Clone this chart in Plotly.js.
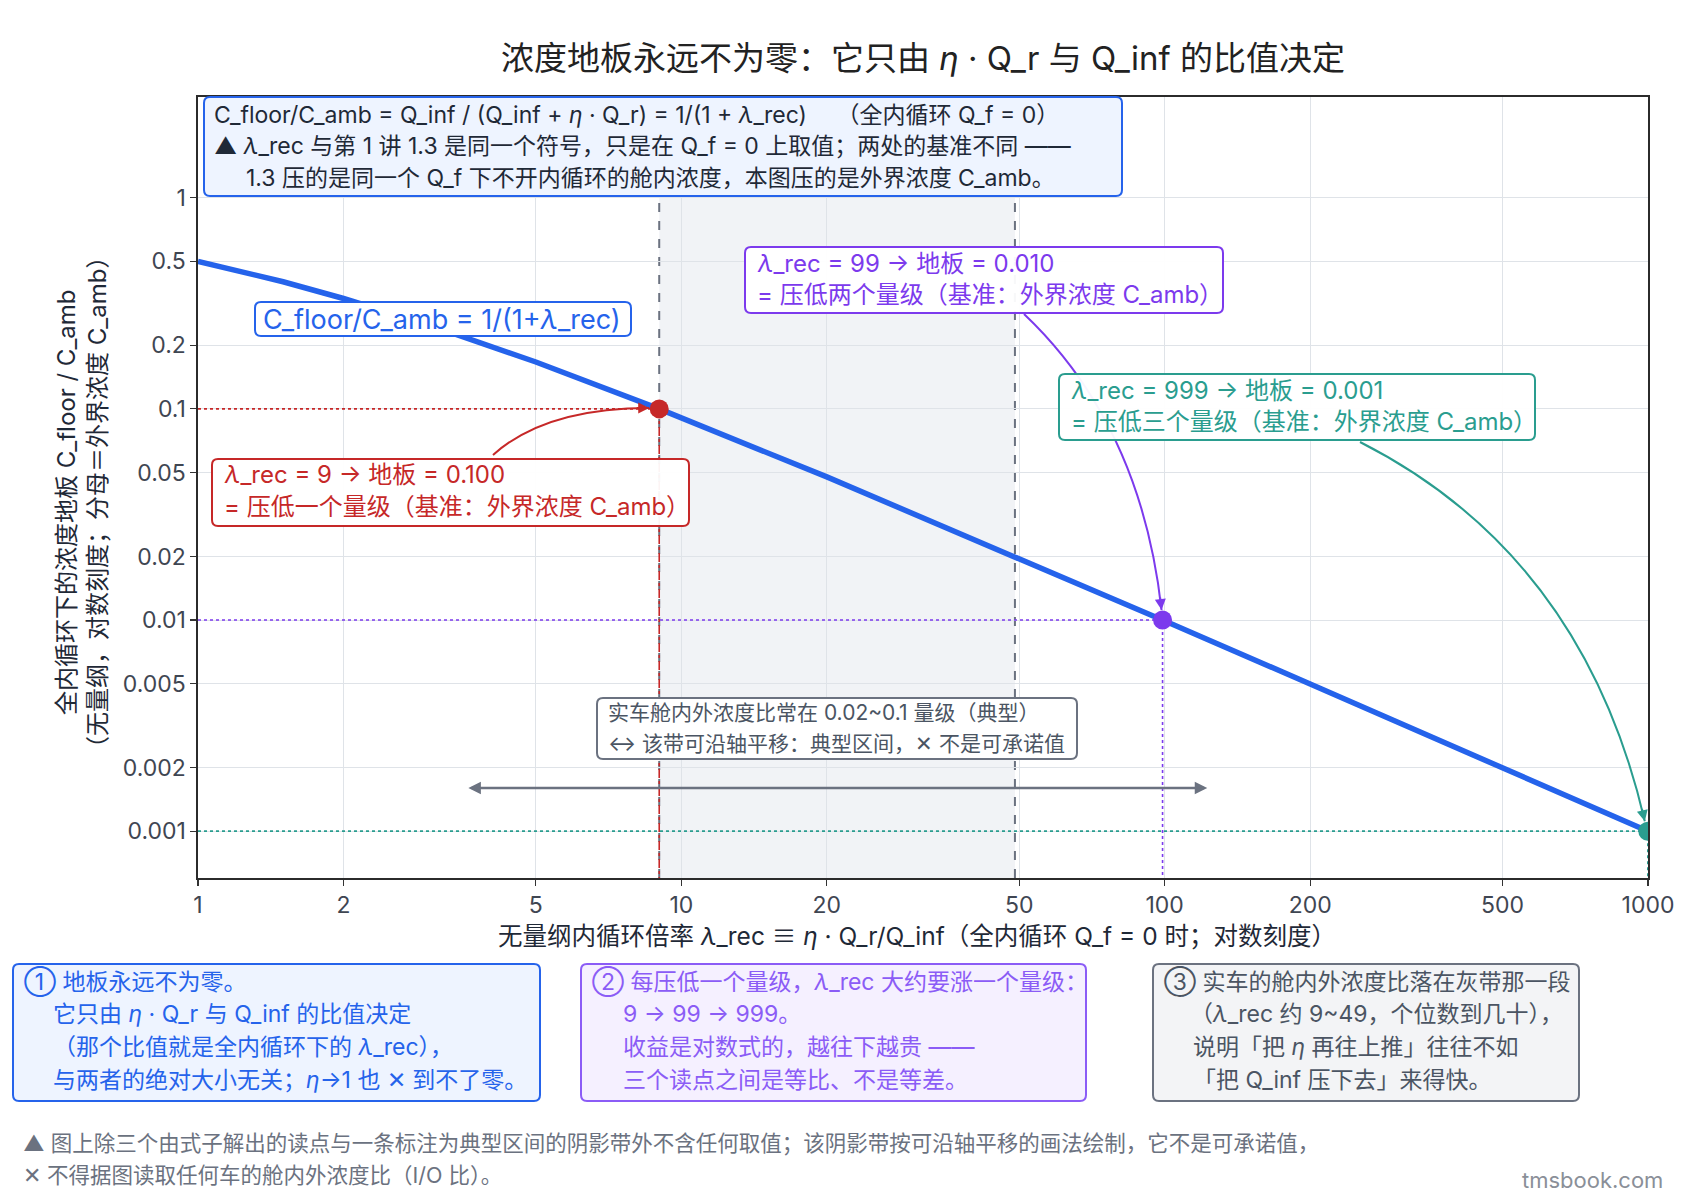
<!DOCTYPE html>
<html>
<head>
<meta charset="utf-8">
<script src="https://cdn.plot.ly/plotly-3.0.1.min.js"></script>
<style>body{margin:0;background:#fff}</style>
</head>
<body>
<div id="chart" style="width:1682px;height:1203px"></div>
<script>
// ---------- DATA ----------
const lamCurve   = [1, 1.5, 2, 3, 5, 9, 20, 49, 99, 200, 500, 999, 1000];
const floorCurve = [0.5, 0.4, 0.3333, 0.25, 0.1667, 0.1, 0.04762, 0.02, 0.01, 0.004975, 0.001996, 0.001, 0.000999];

const readLam    = [9, 99, 999];
const readFloor  = [0.1, 0.01, 0.001];
const readColors = ['#c62828', '#7c3aed', '#2a9d8f'];

const bandLam    = [9, 49];        // typical interval (grey band)
const bandShift  = [3.6, 122.5];   // slide arrow extent
const bandArrowY = 0.0016;

const xTicks    = [1, 2, 5, 10, 20, 50, 100, 200, 500, 1000];
const yTicks    = [1, 0.5, 0.2, 0.1, 0.05, 0.02, 0.01, 0.005, 0.002, 0.001];
const yTickText = ['1', '0.5', '0.2', '0.1', '0.05', '0.02', '0.01', '0.005', '0.002', '0.001'];
const xRange = [1, 1000];
const yRange = [0.0006, 3];

const titleText  = '浓度地板永远不为零：它只由 <i>η</i> · Q_r 与 Q_inf 的比值决定';
const xTitleText = '无量纲内循环倍率 <i>λ</i>_rec ≡ <i>η</i> · Q_r/Q_inf（全内循环 Q_f = 0 时；对数刻度）';
const yTitleText = '全内循环下的浓度地板 C_floor / C_amb<br>（无量纲，对数刻度；分母＝外界浓度 C_amb）';

const topLines = [
  'C_floor/C_amb = Q_inf / (Q_inf + <i>η</i> · Q_r) = 1/(1 + <i>λ</i>_rec)　 （全内循环 Q_f = 0）',
  '▲ <i>λ</i>_rec 与第 1 讲 1.3 是同一个符号，只是在 Q_f = 0 上取值；两处的基准不同 ——',
  '1.3 压的是同一个 Q_f 下不开内循环的舱内浓度，本图压的是外界浓度 C_amb。'
];
const curveLabel = ['C_floor/C_amb = 1/(1+<i>λ</i>_rec)'];
const readLines = [
  ['<i>λ</i>_rec = 9 → 地板 = 0.100',   '= 压低一个量级（基准：外界浓度 C_amb）'],
  ['<i>λ</i>_rec = 99 → 地板 = 0.010',  '= 压低两个量级（基准：外界浓度 C_amb）'],
  ['<i>λ</i>_rec = 999 → 地板 = 0.001', '= 压低三个量级（基准：外界浓度 C_amb）']
];
const bandLines = ['实车舱内外浓度比常在 0.02~0.1 量级（典型）', '↔ 该带可沿轴平移：典型区间，✕ 不是可承诺值'];
const note1 = ['① 地板永远不为零。', '它只由 <i>η</i> · Q_r 与 Q_inf 的比值决定', '（那个比值就是全内循环下的 <i>λ</i>_rec），', '与两者的绝对大小无关；<i>η</i>→1 也 ✕ 到不了零。'];
const note2 = ['② 每压低一个量级，<i>λ</i>_rec 大约要涨一个量级：', '9 → 99 → 999。', '收益是对数式的，越往下越贵 ——', '三个读点之间是等比、不是等差。'];
const note3 = ['③ 实车的舱内外浓度比落在灰带那一段', '（<i>λ</i>_rec 约 9~49，个位数到几十），', '说明「把 <i>η</i> 再往上推」往往不如', '「把 Q_inf 压下去」来得快。'];
const footLines = [
  '▲ 图上除三个由式子解出的读点与一条标注为典型区间的阴影带外不含任何取值；该阴影带按可沿轴平移的画法绘制，它不是可承诺值，',
  '✕ 不得据图读取任何车的舱内外浓度比（I/O 比）。'
];

// ---------- GEOMETRY HELPERS ----------
const FONT = 'Inter, "Noto Sans CJK SC", sans-serif';
const W = 1682, H = 1203;
const M = { l: 198, r: 34, t: 97, b: 325 };
const PW = W - M.l - M.r, PH = H - M.t - M.b;
const lg = Math.log10;
const px = x => (x - M.l) / PW;          // pixel -> paper
const py = y => 1 - (y - M.t) / PH;
const dx = v => M.l + (lg(v) - lg(xRange[0])) / (lg(xRange[1]) - lg(xRange[0])) * PW;   // data -> pixel
const dy = v => M.t + (lg(yRange[1]) - lg(v)) / (lg(yRange[1]) - lg(yRange[0])) * PH;

const shapes = [];
const annotations = [];

function roundRect(x0, y0, x1, y1, r) {
  const rx = r / PW, ry = r / PH;
  const a = px(x0), b = px(x1), c = py(y0), d = py(y1);
  return `M ${a + rx},${c} L ${b - rx},${c} Q ${b},${c} ${b},${c - ry} L ${b},${d + ry} Q ${b},${d} ${b - rx},${d}` +
         ` L ${a + rx},${d} Q ${a},${d} ${a},${d + ry} L ${a},${c - ry} Q ${a},${c} ${a + rx},${c} Z`;
}

function textBox(o) {
  shapes.push({
    type: 'path', xref: 'paper', yref: 'paper', layer: 'above',
    path: roundRect(o.x0, o.y0, o.x1, o.y1, 6),
    fillcolor: o.bg, line: { color: o.border, width: 2 }
  });
  o.lines.forEach((t, i) => {
    const ind = o.indents ? o.indents[i] * o.indent : 0;
    annotations.push({
      xref: 'paper', yref: 'paper', showarrow: false,
      x: px(o.x0 + o.pad + ind),
      y: py(o.first + i * o.step),
      xanchor: 'left', yanchor: 'middle', text: t,
      font: { family: FONT, size: o.size, color: o.color }
    });
  });
}

function curvedArrow(p0, c, p2, color) {
  shapes.push({
    type: 'path', xref: 'paper', yref: 'paper', layer: 'above',
    path: `M ${px(p0[0])},${py(p0[1])} Q ${px(c[0])},${py(c[1])} ${px(p2[0])},${py(p2[1])}`,
    line: { color: color, width: 2 }
  });
  const vx = c[0] - p2[0], vy = c[1] - p2[1], n = Math.hypot(vx, vy);
  annotations.push({
    xref: 'paper', yref: 'paper', x: px(p2[0]), y: py(p2[1]),
    ax: vx / n * 14, ay: vy / n * 14, text: '', showarrow: true,
    arrowhead: 2, arrowsize: 1.1, arrowwidth: 2, arrowcolor: color, standoff: 0
  });
}

// ---------- TRACES ----------
const traces = [];
readLam.forEach((lam, i) => {
  traces.push({
    x: [xRange[0], lam], y: [readFloor[i], readFloor[i]], mode: 'lines', hoverinfo: 'skip',
    line: { color: readColors[i], width: 1.6, dash: 'dot' }, showlegend: false
  });
  traces.push({
    x: [lam, lam], y: [readFloor[i], yRange[0]], mode: 'lines', hoverinfo: 'skip',
    line: { color: readColors[i], width: 1.6, dash: i === 0 ? 'dashdot' : 'dot' }, showlegend: false
  });
});
traces.push({
  x: lamCurve, y: floorCurve, mode: 'lines', line: { color: '#2563eb', width: 5.5 }, showlegend: false
});
traces.push({
  x: readLam, y: readFloor, mode: 'markers', showlegend: false,
  marker: { color: readColors, size: 19 }
});

// ---------- SHAPES / BOXES ----------
shapes.push({
  type: 'rect', xref: 'x', yref: 'paper', layer: 'below',
  x0: bandLam[0], x1: bandLam[1], y0: 0, y1: 1,
  fillcolor: '#f1f3f6', line: { width: 0 }
});
bandLam.forEach(v => shapes.push({
  type: 'line', xref: 'x', yref: 'paper', layer: 'below',
  x0: v, x1: v, y0: 0, y1: 1, line: { color: '#6b7280', width: 2, dash: 'dash' }
}));

annotations.push({
  xref: 'x', yref: 'y', axref: 'x', ayref: 'y',
  x: lg(bandShift[1]), y: lg(bandArrowY), ax: lg(bandShift[0]), ay: lg(bandArrowY),
  text: '', showarrow: true, arrowside: 'end+start', arrowhead: 2, arrowsize: 1,
  arrowwidth: 2.5, arrowcolor: '#6b7280', standoff: 0, startstandoff: 0
});

curvedArrow([493, 455], [545, 408], [dx(readLam[0]) - 10, dy(readFloor[0]) - 1], readColors[0]);
curvedArrow([1024, 314], [1141, 425], [dx(readLam[1]) - 1, dy(readFloor[1]) - 10], readColors[1]);
curvedArrow([1360, 442], [1583, 555], [dx(readLam[2]) - 3, dy(readFloor[2]) - 10], readColors[2]);

textBox({ x0: 204, y0: 97, x1: 1122, y1: 196, lines: topLines, first: 114.5, step: 31.5, pad: 8,
          indent: 32, indents: [0, 0, 1],
          size: 23, color: '#1f2937', bg: '#eef4ff', border: '#2563eb' });
textBox({ x0: 255, y0: 302, x1: 631, y1: 336, lines: curveLabel, first: 319, step: 0, pad: 6,
          size: 27, color: '#2563eb', bg: '#ffffff', border: '#2563eb' });
const readBoxes = [[212, 459, 689, 526], [745, 247, 1223, 313], [1059, 374, 1535, 440]];
readBoxes.forEach((b, i) => textBox({
  x0: b[0], y0: b[1], x1: b[2], y1: b[3], lines: readLines[i], first: b[1] + 16, step: 31.5, pad: 10,
  size: 24, color: readColors[i], bg: 'rgba(255,255,255,0.95)', border: readColors[i]
}));
textBox({ x0: 597, y0: 698, x1: 1077, y1: 759, lines: bandLines, first: 712.5, step: 31, pad: 9,
          size: 21, color: '#4b5563', bg: '#ffffff', border: '#6b7280' });

textBox({ x0: 13, y0: 964, x1: 540, y1: 1101, lines: note1, first: 981.5, step: 32.8, pad: 9,
          indent: 29, indents: [0, 1, 1, 1],
          size: 23, color: '#2563eb', bg: '#eef4ff', border: '#2563eb' });
textBox({ x0: 581, y0: 964, x1: 1086, y1: 1101, lines: note2, first: 981.5, step: 32.8, pad: 9,
          indent: 31, indents: [0, 1, 1, 1],
          size: 23, color: '#8b5cf6', bg: '#f5f0ff', border: '#8b5cf6' });
textBox({ x0: 1153, y0: 964, x1: 1579, y1: 1101, lines: note3, first: 981.5, step: 32.8, pad: 9,
          indent: 29, indents: [0, 0.9, 1, 1],
          size: 23, color: '#4b5563', bg: '#f3f4f6', border: '#6b7280' });

// axis titles, footnotes
annotations.push({
  xref: 'paper', yref: 'paper', x: px(917), y: py(936), xanchor: 'center', yanchor: 'middle',
  showarrow: false, text: xTitleText, font: { family: FONT, size: 24.5, color: '#1f2937' }
});
annotations.push({
  xref: 'paper', yref: 'paper', x: px(82), y: py(503), xanchor: 'center', yanchor: 'middle',
  showarrow: false, text: yTitleText, textangle: -90,
  font: { family: FONT, size: 24, color: '#1f2937' }
});
footLines.forEach((t, i) => annotations.push({
  xref: 'paper', yref: 'paper', x: px(21), y: py(1143 + i * 32), xanchor: 'left', yanchor: 'middle',
  showarrow: false, text: t, font: { family: FONT, size: 21.5, color: '#6b7280' }
}));
annotations.push({
  xref: 'paper', yref: 'paper', x: px(1665), y: py(1180), xanchor: 'right', yanchor: 'middle',
  showarrow: false, text: 'tmsbook.com', font: { family: FONT, size: 22, color: '#8a8f98' }
});

// ---------- LAYOUT ----------
const axisCommon = {
  type: 'log', showline: true, mirror: true, linecolor: '#2b2b2b', linewidth: 1.6,
  ticks: 'outside', ticklen: 6, tickcolor: '#333', tickwidth: 1.2,
  showgrid: true, gridcolor: '#dfe3e8', gridwidth: 1, zeroline: false,
  tickfont: { family: FONT, size: 23, color: '#3f4652' }
};

const layout = {
  width: W, height: H, margin: M,
  paper_bgcolor: '#ffffff', plot_bgcolor: '#ffffff',
  font: { family: FONT },
  title: {
    text: titleText, x: 0.5, xref: 'paper', xanchor: 'center',
    y: 1 - 58 / H, yref: 'container', yanchor: 'middle',
    font: { family: FONT, size: 33, color: '#222222' }
  },
  xaxis: Object.assign({}, axisCommon, {
    range: [lg(xRange[0]), lg(xRange[1])], tickvals: xTicks, ticktext: xTicks.map(String)
  }),
  yaxis: Object.assign({}, axisCommon, {
    range: [lg(yRange[0]), lg(yRange[1])], tickvals: yTicks, ticktext: yTickText
  }),
  shapes: shapes,
  annotations: annotations,
  showlegend: false
};

Plotly.newPlot('chart', traces, layout, { displayModeBar: false, staticPlot: true });
</script>
</body>
</html>
